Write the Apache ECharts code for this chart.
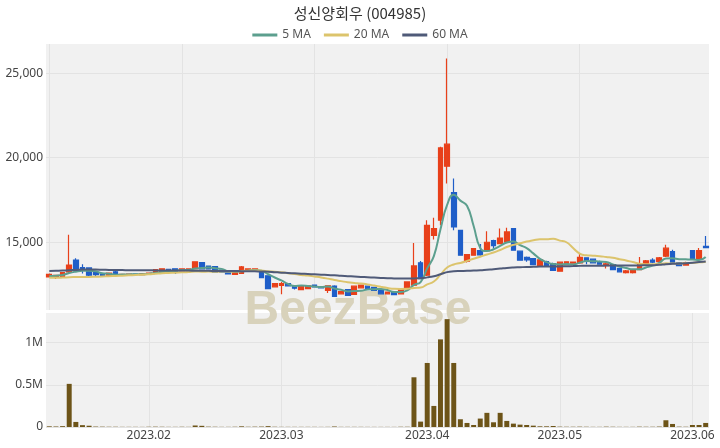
<!DOCTYPE html>
<html><head><meta charset="utf-8">
<script src="https://cdn.jsdelivr.net/npm/echarts@6/dist/echarts.min.js"></script>
<style>html,body{margin:0;padding:0;background:#fff}#c{width:720px;height:448px}</style>
</head><body><div id="c"></div>
<script>
const dates = [
'2023-01-09','2023-01-10','2023-01-11','2023-01-12','2023-01-13','2023-01-16','2023-01-17','2023-01-18','2023-01-19','2023-01-20','2023-01-25','2023-01-26','2023-01-27','2023-01-30','2023-01-31',
'2023-02-01','2023-02-02','2023-02-03','2023-02-06','2023-02-07','2023-02-08','2023-02-09','2023-02-10','2023-02-13','2023-02-14','2023-02-15','2023-02-16','2023-02-17','2023-02-20','2023-02-21','2023-02-22','2023-02-23','2023-02-24','2023-02-27','2023-02-28',
'2023-03-02','2023-03-03','2023-03-06','2023-03-07','2023-03-08','2023-03-09','2023-03-10','2023-03-13','2023-03-14','2023-03-15','2023-03-16','2023-03-17','2023-03-20','2023-03-21','2023-03-22','2023-03-23','2023-03-24','2023-03-27','2023-03-28','2023-03-29','2023-03-30','2023-03-31',
'2023-04-03','2023-04-04','2023-04-05','2023-04-06','2023-04-07','2023-04-10','2023-04-11','2023-04-12','2023-04-13','2023-04-14','2023-04-17','2023-04-18','2023-04-19','2023-04-20','2023-04-21','2023-04-24','2023-04-25','2023-04-26','2023-04-27','2023-04-28',
'2023-05-02','2023-05-03','2023-05-04','2023-05-08','2023-05-09','2023-05-10','2023-05-11','2023-05-12','2023-05-15','2023-05-16','2023-05-17','2023-05-18','2023-05-19','2023-05-22','2023-05-23','2023-05-24','2023-05-25','2023-05-26','2023-05-30','2023-05-31',
'2023-06-01','2023-06-02','2023-06-05'];

const openP = [
12950,12920,12920,13250,13950,13500,13480,13200,13150,12980,
13250,13050,13080,13120,13080,13130,13200,13250,13400,13430,
13300,13300,13440,13790,13590,13560,13350,13200,13100,13150,
13300,13330,13250,13010,12360,12450,12550,12400,12200,12250,
12470,12380,12150,12410,11950,12200,11920,12300,12400,12330,
12150,11950,12050,11950,12260,12460,13780,13050,15400,16300,
19500,17940,15700,13880,14230,14500,14500,15100,14920,15020,
15800,14470,14100,14030,13620,13850,13740,13290,13680,13760,
13780,14080,14000,13860,13620,13680,13450,13200,13200,13380,
13750,13950,13850,14170,14450,13780,13650,14500,14050,14760];

const closeP = [
13100,13040,13200,13650,13300,13350,13050,13080,13020,13180,
13050,13100,13120,13100,13130,13180,13380,13430,13300,13250,
13420,13420,13840,13420,13420,13210,13230,13120,13280,13540,
13420,13420,12910,12260,12550,12550,12420,12280,12400,12420,
12350,12300,12420,11800,12080,11860,12400,12470,12220,12150,
11950,12050,11900,12200,12650,13600,12850,16000,15800,20580,
20800,15900,14230,14270,14620,14250,15000,14800,15250,15610,
14530,13940,13950,13680,13960,13600,13340,13820,13840,13830,
14100,13860,13780,13700,13720,13380,13250,13300,13320,13740,
13900,13820,14080,14650,13780,13620,13800,14030,14500,14680];

const lowP = [
12920,12820,12900,13150,13250,13150,13000,12980,12980,12950,
13020,13030,13050,13050,13050,13100,13180,13230,13280,13120,
13280,13280,13420,13400,13400,13180,13200,13100,13080,13130,
13280,13300,12880,12240,12340,11920,12400,12200,12180,12230,
12330,12280,12000,11780,11930,11840,11900,12280,12200,12130,
11930,11930,11880,11930,12240,12420,12820,13000,15160,16000,
18470,15710,14200,13800,14200,14200,14450,14650,14880,14950,
14500,13900,13850,13650,13580,13550,13300,13260,13650,13740,
13740,13700,13750,13680,13450,13350,13230,13150,13150,13350,
13700,13750,13800,14120,13740,13580,13620,13980,14000,14640];

const highP = [
13150,13060,13220,15450,14050,13700,13500,13250,13180,13200,
13300,13120,13150,13150,13150,13200,13400,13450,13420,13450,
13450,13450,13880,13820,13600,13580,13380,13230,13300,13600,
13450,13450,13280,13030,12570,12650,12580,12420,12420,12450,
12500,12400,12450,12450,12100,12220,12420,12500,12420,12350,
12180,12070,12070,12220,12680,14960,13890,16300,16450,20650,
25870,18770,15720,14300,14650,14900,15650,15150,15810,15850,
15820,14500,14150,14050,13980,13900,13780,13850,13880,13860,
14330,14100,14020,13900,13800,13700,13470,13350,13350,14130,
13950,14050,14120,14850,14550,13820,13850,14530,14660,15370];

const volume = [
8000,6000,10000,512000,60000,22000,15000,5000,4000,3000,
3000,2000,2000,2000,1500,3000,4000,3000,2000,2000,
3000,2000,18000,14000,4000,3000,2000,2000,3000,8000,
3000,4000,5000,10000,3000,2000,2000,2000,2000,2000,
2000,1500,2000,6000,2000,2000,2000,2000,1500,1500,
1500,1500,1500,3000,3000,590000,64000,760000,250000,1040000,
1280000,760000,92000,48000,24000,100000,168000,56000,168000,72000,
40000,28000,24000,16000,8000,8000,12000,4000,3000,3000,
4000,3000,2000,2000,4000,3000,2000,2000,2000,4000,
3000,3000,5000,80000,36000,4000,3000,24000,24000,48000];

const ma5 = [
13000,13020,13060,13180,13258,13308,13310,13286,13160,13136,
13076,13086,13094,13110,13100,13126,13182,13244,13284,13308,
13356,13364,13446,13470,13504,13462,13424,13280,13252,13276,
13318,13356,13314,13110,12912,12738,12538,12412,12440,12414,
12374,12350,12378,12258,12190,12092,12112,12122,12206,12220,
12238,12168,12054,12050,12150,12480,12640,13460,14180,15766,
17206,17816,17462,17156,15964,14654,14474,14588,14784,14982,
15038,14826,14656,14342,14012,13826,13706,13680,13712,13686,
13786,13890,13882,13854,13832,13688,13566,13470,13394,13398,
13502,13616,13772,14038,14046,13990,13986,13976,13946,14126];

const ma20 = [
12900,12900,12910,12930,12940,12950,12950,12960,12970,12990,
13000,13020,13040,13060,13080,13100,13130,13160,13180,13200,
13217,13236,13268,13256,13262,13255,13264,13266,13279,13297,
13316,13332,13321,13279,13250,13219,13171,13113,13068,13027,
12973,12917,12846,12765,12698,12631,12589,12557,12504,12434,
12361,12292,12242,12239,12244,12296,12318,12504,12674,13082,
13504,13684,13775,13898,14025,14145,14275,14391,14543,14716,
14845,14939,15042,15116,15181,15181,15206,15097,14999,14661,
14326,14224,14202,14173,14128,14085,13997,13922,13826,13732,
13701,13695,13701,13750,13741,13742,13765,13775,13808,13851];

const ma60 = [
13300,13310,13320,13340,13360,13380,13380,13380,13370,13360,
13350,13350,13340,13340,13340,13340,13330,13330,13330,13320,
13320,13320,13310,13310,13310,13300,13300,13300,13300,13290,
13290,13280,13270,13260,13230,13200,13180,13160,13140,13120,
13100,13080,13060,13040,13010,12990,12970,12950,12930,12910,
12890,12870,12860,12850,12850,12860,12870,12920,12990,13103,
13231,13279,13296,13306,13328,13343,13376,13405,13442,13482,
13507,13521,13535,13544,13558,13565,13565,13571,13580,13590,
13601,13608,13607,13612,13617,13620,13620,13623,13624,13627,
13635,13642,13661,13701,13722,13740,13763,13792,13827,13864];

const seriesNames = ['5 MA','20 MA','60 MA'];
const titleText = '성신양회우 (004985)';
const watermark = 'BeezBase';

const UP = '#e8401a', DOWN = '#1f5ec8';
const candle = dates.map((d, i) => [openP[i], closeP[i], lowP[i], highP[i]]);
const monthStart = dates.map((d, i) => i > 0 && d.slice(5, 7) !== dates[i - 1].slice(5, 7));
const gridLineColor = '#e3e3e3';
const labelFont = { fontFamily: 'Noto Sans', fontSize: 12, color: '#444' };

const chart = echarts.init(document.getElementById('c'), null, { renderer: 'canvas' });
chart.setOption({
  animation: false,
  backgroundColor: '#ffffff',
  title: {
    text: titleText, left: 'center', top: 1,
    textStyle: { fontFamily: 'Noto Sans CJK KR', fontSize: 15, fontWeight: 'normal', color: '#333' }
  },
  legend: {
    top: 24, left: 'center', icon: 'rect', itemWidth: 25, itemHeight: 3, itemGap: 13,
    data: seriesNames,
    textStyle: { fontFamily: 'Noto Sans', fontSize: 12, color: '#555' }
  },
  graphic: [{
    type: 'text', x: 358, y: 311, z: 1, silent: true,
    style: { text: watermark, font: 'bold 48px "Liberation Sans"', fill: '#d8d2bb', align: 'center', verticalAlign: 'middle' }
  }],
  grid: [
    { left: 46, right: 11, top: 44, height: 266, show: true, backgroundColor: '#f1f1f1', borderWidth: 0 },
    { left: 46, right: 11, top: 313, bottom: 21, show: true, backgroundColor: '#f1f1f1', borderWidth: 0 }
  ],
  xAxis: [
    { type: 'category', gridIndex: 0, data: dates, boundaryGap: true,
      axisLine: { show: false }, axisTick: { show: false }, axisLabel: { show: false },
      splitLine: { show: true, interval: 19, alignWithLabel: true, lineStyle: { color: gridLineColor, width: 1 } } },
    { type: 'category', gridIndex: 1, data: dates, boundaryGap: true,
      axisLine: { show: false }, axisTick: { show: false },
      axisLabel: Object.assign({ interval: (i) => monthStart[i], margin: 3,
        formatter: (v) => v.slice(0, 4) + '.' + v.slice(5, 7) }, labelFont),
      splitLine: { show: true, interval: (i) => monthStart[i], alignWithLabel: true, lineStyle: { color: gridLineColor, width: 1 } } }
  ],
  yAxis: [
    { type: 'value', gridIndex: 0, min: 10990, max: 26730, splitNumber: 3, scale: true,
      axisLine: { show: false }, axisTick: { show: false },
      axisLabel: Object.assign({ showMinLabel: false, showMaxLabel: false, margin: 3,
        formatter: (v) => v.toLocaleString('en-US') }, labelFont),
      splitLine: { show: true, showMinLine: false, showMaxLine: false, lineStyle: { color: gridLineColor } } },
    { type: 'value', gridIndex: 1, min: 0, max: 1353000, splitNumber: 3,
      axisLine: { show: false }, axisTick: { show: false },
      axisLabel: Object.assign({ showMaxLabel: false, margin: 3,
        formatter: (v) => v === 0 ? '0' : (v / 1e6) + 'M' }, labelFont),
      splitLine: { show: true, showMaxLine: false, lineStyle: { color: gridLineColor } } }
  ],
  series: [
    { type: 'candlestick', name: 'price', xAxisIndex: 0, yAxisIndex: 0, data: candle, barWidth: '78%',
      itemStyle: { color: UP, color0: DOWN, borderColor: UP, borderColor0: DOWN, borderWidth: 1.2 } },
    { type: 'line', name: seriesNames[0], xAxisIndex: 0, yAxisIndex: 0, data: ma5, symbol: 'none', smooth: true,
      lineStyle: { width: 2, color: '#5c9f8e' }, itemStyle: { color: '#5c9f8e' } },
    { type: 'line', name: seriesNames[1], xAxisIndex: 0, yAxisIndex: 0, data: ma20, symbol: 'none', smooth: true,
      lineStyle: { width: 2, color: '#dcc46c' }, itemStyle: { color: '#dcc46c' } },
    { type: 'line', name: seriesNames[2], xAxisIndex: 0, yAxisIndex: 0, data: ma60, symbol: 'none', smooth: true,
      lineStyle: { width: 2, color: '#4f5a78' }, itemStyle: { color: '#4f5a78' } },
    { type: 'bar', name: 'volume', xAxisIndex: 1, yAxisIndex: 1, data: volume, barWidth: '75%',
      itemStyle: { color: '#6d5418' } }
  ]
});
</script>
</body></html>
